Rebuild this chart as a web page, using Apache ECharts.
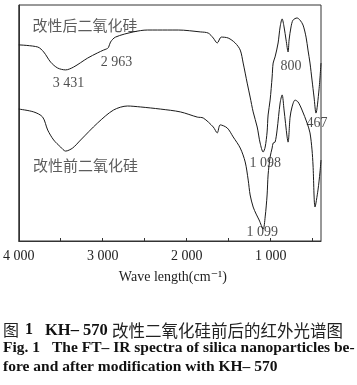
<!DOCTYPE html>
<html>
<head>
<meta charset="utf-8">
<script src="https://cdn.jsdelivr.net/npm/echarts@6/dist/echarts.min.js"></script>
<style>html,body{margin:0;padding:0;background:#fff;}#c{width:357px;height:385px;}</style>
</head>
<body>
<div id="c"></div>
<script>
// Wavenumber (cm^-1) and relative transmittance (arbitrary %)
const afterWavenumber = [4000,3774,3703,3620,3537,3442,3347,3180,3062,2990,2954,2931,2907,2848,2634,2467,2230,2099,1838,1743,1683,1636,1588,1505,1422,1362,1327,1279,1244,1208,1160,1125,1089,1065,1042,1030,1006,982,970,947,911,887,863,840,816,792,780,757,733,685,650,614,578,555,531,507,483,460,424,400];
const afterValue      = [83.1,82.2,80.1,75.8,73.3,72.5,73.7,77.5,79.7,80.9,81.4,82.0,84.3,86.4,88.6,89.4,89.4,89.4,88.6,88.1,86.0,83.9,86.4,86.0,83.9,80.9,75.4,66.9,61.0,54.7,48.3,41.5,37.7,39.8,46.2,53.4,59.7,69.5,75.4,78.0,83.9,90.7,94.1,90.7,85.2,80.1,85.2,90.7,93.6,94.5,93.6,91.5,86.4,80.9,75.4,68.2,61.0,54.2,64.0,75.4];

const beforeWavenumber = [4000,3822,3715,3655,3584,3501,3442,3358,3263,3061,2871,2705,2551,2313,2075,1873,1802,1683,1636,1600,1517,1446,1362,1303,1267,1244,1208,1172,1137,1089,1065,1042,1030,1006,982,970,947,923,887,863,840,804,792,768,745,709,673,626,566,531,507,495,471,436,412,400];
const beforeValue      = [55.9,54.7,52.5,47.0,42.8,39.8,38.1,39.4,42.8,50.0,55.5,57.2,56.8,55.9,54.7,52.5,52.1,48.3,45.8,49.2,47.9,44.1,39.4,33.5,25.8,19.5,14.4,11.4,8.9,5.1,10.2,19.5,28.0,35.6,39.4,41.5,41.9,47.0,58.5,61.9,55.5,44.1,41.9,52.5,56.8,59.7,58.9,55.5,50.0,45.8,38.6,32.2,14.4,21.6,29.2,34.3];

const xTickValues  = [500,1000,1500,2000,2500,3000,3500];
const xLabelValues = [1000,2000,3000,4000];

// Annotation texts and the data position of their centres
const annoText = ['3 431','2 963','800','467','1 098','1 099'];
const annoX    = [3406,2836,757,448,1065,1101];
const annoY    = [66.9,75.8,74.2,50.0,33.1,3.8];
const seriesNames = ['改性后二氧化硅','改性前二氧化硅'];
const seriesNameX = [3210,3204];
const seriesNameY = [91.5,32.2];

const serif = '"Liberation Serif","DejaVu Serif",serif';
const cjk = '"Noto Sans CJK SC",sans-serif';
const ink = '#222';

function zip(a,b){return a.map((v,i)=>[v,b[i]]);}
function fmt(v){const s=String(v);return s.length>3?s.slice(0,s.length-3)+' '+s.slice(-3):s;}

const chart = echarts.init(document.getElementById('c'), null, {renderer:'canvas'});
chart.setOption({
  animation:false,
  backgroundColor:'#fff',
  grid:{left:18,right:36,top:5,bottom:144,show:true,borderColor:'#333',borderWidth:1,backgroundColor:'transparent'},
  xAxis:{
    type:'value',inverse:true,min:400,max:4000,
    axisLine:{show:true,lineStyle:{color:'#333',width:1}},
    axisTick:{show:true,inside:true,length:3,customValues:xTickValues,lineStyle:{color:'#333'}},
    axisLabel:{show:true,customValues:xLabelValues,formatter:fmt,fontFamily:serif,fontSize:14,color:ink,margin:8},
    splitLine:{show:false},
    name:'Wave length(cm⁻¹)',nameLocation:'middle',nameGap:29,
    nameTextStyle:{fontFamily:serif,fontSize:14,color:ink,padding:[0,0,0,6]}
  },
  yAxis:{
    type:'value',min:0,max:100,
    axisLine:{show:true,lineStyle:{color:'#333',width:1}},
    axisTick:{show:false},axisLabel:{show:false},splitLine:{show:false}
  },
  series:[
    {name:seriesNames[0],type:'line',data:zip(afterWavenumber,afterValue),showSymbol:false,smooth:0.3,
     lineStyle:{color:'#1a1a1a',width:1}},
    {name:seriesNames[1],type:'line',data:zip(beforeWavenumber,beforeValue),showSymbol:false,smooth:0.3,
     lineStyle:{color:'#1a1a1a',width:1}},
    {type:'scatter',symbolSize:0,silent:true,clip:false,
     data:annoText.map((t,i)=>[annoX[i],annoY[i],t]),
     label:{show:true,position:'inside',formatter:p=>p.data[2],fontFamily:serif,fontSize:14,color:ink}},
    {type:'scatter',symbolSize:0,silent:true,clip:false,
     data:seriesNames.map((t,i)=>[seriesNameX[i],seriesNameY[i],t]),
     label:{show:true,position:'inside',formatter:p=>p.data[2],fontFamily:cjk,fontSize:15,color:'#333'}}
  ],
  graphic:[
    {type:'text',left:3,top:322,style:{text:'图',font:'16px '+cjk,fill:'#222'}},
    {type:'text',left:25,top:322,style:{text:'1',font:'bold 16px '+serif,fill:'#111'}},
    {type:'text',left:45,top:322,style:{text:'KH– 570',font:'bold 16.5px '+serif,fill:'#111'}},
    {type:'text',left:112,top:322,style:{text:'改性二氧化硅前后的红外光谱图',font:'16.5px '+cjk,fill:'#222'}},
    {type:'text',left:3,top:340,style:{text:'Fig. 1',font:'bold 15.5px '+serif,fill:'#111'}},
    {type:'text',left:52,top:340,style:{text:'The FT– IR spectra of silica nanoparticles be-',font:'bold 15.5px '+serif,fill:'#111'}},
    {type:'text',left:3,top:359,style:{text:'fore and after modification with KH– 570',font:'bold 15.5px '+serif,fill:'#111'}}
  ]
});
</script>
</body>
</html>
